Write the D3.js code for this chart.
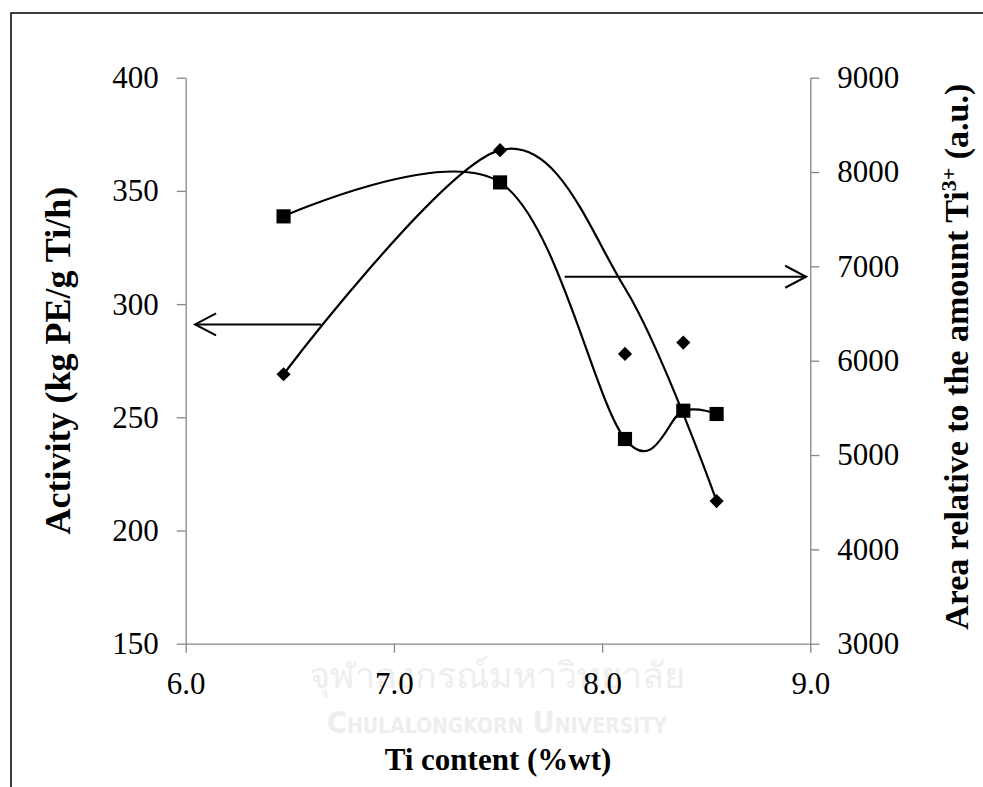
<!DOCTYPE html>
<html>
<head>
<meta charset="utf-8">
<script src="https://cdn.jsdelivr.net/npm/d3@7"></script>
<style>
    html, body { margin: 0; padding: 0; background: #fff; overflow: hidden; }
    svg { display: block; }
</style>
</head>
<body>
<div id="chart"></div>
<script>
// Ti content of each catalyst (%wt)
const tiContent = [6.47, 7.51, 8.11, 8.39, 8.55];
// Activity (kg PE/g Ti/h), diamond markers, left axis
const activity = [269, 368, 278, 283, 213];
// smoothed line drawn for the activity series (knots as they appear in the figure)
const activityCurveTi = [6.47, 7.51, 8.11, 8.55];
const activityCurve = [269, 368, 307, 213];
// Area relative to Ti3+ (a.u.), square markers, right axis
const areaTi3 = [7530, 7890, 5170, 5470, 5435];

const xTicks = [6.0, 7.0, 8.0, 9.0];
const leftTicks = [150, 200, 250, 300, 350, 400];
const rightTicks = [3000, 4000, 5000, 6000, 7000, 8000, 9000];

class DualAxisChart {
    constructor() {
        this.width = 983;
        this.height = 787;
        this.margin = {top: 77.7, right: 172.7, bottom: 143.3, left: 185.7};
        this.font = '"Liberation Serif", "Times New Roman", serif';
        this.render();
    }

    render() {
        const m = this.margin;
        const w = this.width - m.left - m.right;
        const h = this.height - m.top - m.bottom;

        const svg = d3.select('#chart')
            .append('svg')
            .attr('width', this.width)
            .attr('height', this.height);

        // outer frame of the figure (runs off the right and bottom edges)
        svg.append('rect')
            .attr('x', 11)
            .attr('y', 13)
            .attr('width', 1000)
            .attr('height', 1000)
            .attr('fill', 'none')
            .attr('stroke', '#000')
            .attr('stroke-width', 1.5);

        // faint watermark
        const wm = svg.append('g').attr('fill', '#eeeeee');
        wm.append('text')
            .attr('x', 497).attr('y', 688)
            .attr('text-anchor', 'middle')
            .style('font-family', '"Noto Sans", "DejaVu Sans", sans-serif')
            .style('font-size', '36px')
            .text('จุฬาลงกรณ์มหาวิทยาลัย');
        wm.append('text')
            .attr('x', 497).attr('y', 733)
            .attr('text-anchor', 'middle')
            .style('font-family', '"DejaVu Sans Condensed", "DejaVu Sans", sans-serif')
            .style('font-size', '30px')
            .style('font-weight', 'bold')
            .style('font-variant', 'small-caps')
            .text('Chulalongkorn University');

        const g = svg.append('g')
            .attr('transform', `translate(${m.left},${m.top})`);

        const x = d3.scaleLinear().domain([6, 9]).range([0, w]);
        const yLeft = d3.scaleLinear().domain([150, 400]).range([h, 0]);
        const yRight = d3.scaleLinear().domain([3000, 9000]).range([h, 0]);

        // axes
        const styleAxis = sel => {
            sel.select('.domain').attr('stroke', '#868686').attr('stroke-width', 1.3);
            sel.selectAll('.tick line').attr('stroke', '#868686').attr('stroke-width', 1.3);
            sel.selectAll('.tick text')
                .attr('fill', '#000')
                .style('font-family', this.font)
                .style('font-size', '31px');
        };

        g.append('g')
            .attr('transform', `translate(0,${h})`)
            .call(d3.axisBottom(x).tickValues(xTicks).tickFormat(d3.format('.1f'))
                .tickSize(9).tickSizeOuter(0).tickPadding(19))
            .call(styleAxis);

        g.append('g')
            .call(d3.axisLeft(yLeft).tickValues(leftTicks)
                .tickSize(9).tickSizeOuter(0).tickPadding(18))
            .call(styleAxis);

        g.append('g')
            .attr('transform', `translate(${w},0)`)
            .call(d3.axisRight(yRight).tickValues(rightTicks).tickFormat(d3.format('d'))
                .tickSize(9).tickSizeOuter(0).tickPadding(18))
            .call(styleAxis);

        // smoothed lines
        const curve = d3.curveCardinal.tension(0);

        const actLine = d3.line()
            .x((d, i) => x(activityCurveTi[i]))
            .y(d => yLeft(d))
            .curve(curve);

        const areaLine = d3.line()
            .x((d, i) => x(tiContent[i]))
            .y(d => yRight(d))
            .curve(curve);

        g.append('path')
            .datum(activityCurve)
            .attr('fill', 'none')
            .attr('stroke', '#000')
            .attr('stroke-width', 2.2)
            .attr('d', actLine);

        g.append('path')
            .datum(areaTi3)
            .attr('fill', 'none')
            .attr('stroke', '#000')
            .attr('stroke-width', 2.2)
            .attr('d', areaLine);

        // markers
        g.selectAll('.diamond')
            .data(activity)
            .enter()
            .append('path')
            .attr('class', 'diamond')
            .attr('transform', (d, i) => `translate(${x(tiContent[i])},${yLeft(d)}) rotate(45)`)
            .attr('d', d3.symbol(d3.symbolSquare, 100)())
            .attr('fill', '#000');

        g.selectAll('.square')
            .data(areaTi3)
            .enter()
            .append('path')
            .attr('class', 'square')
            .attr('transform', (d, i) => `translate(${x(tiContent[i])},${yRight(d)})`)
            .attr('d', d3.symbol(d3.symbolSquare, 200)())
            .attr('fill', '#000');

        // arrows pointing to each axis
        this.drawArrow(g, x(6.65), x(6.045), yLeft(291));
        this.drawArrow(g, x(7.82), x(8.98), yRight(6890));

        // axis titles
        svg.append('text')
            .attr('x', m.left + w / 2)
            .attr('y', 770)
            .attr('text-anchor', 'middle')
            .style('font-family', this.font)
            .style('font-weight', 'bold')
            .style('font-size', '31px')
            .text('Ti content (%wt)');

        svg.append('text')
            .attr('transform', `translate(70,${m.top + h / 2}) rotate(-90)`)
            .attr('text-anchor', 'middle')
            .style('font-family', this.font)
            .style('font-weight', 'bold')
            .style('font-size', '36px')
            .text('Activity (kg PE/g Ti/h)');

        const rt = svg.append('text')
            .attr('transform', `translate(968,${m.top + h / 2 - 4}) rotate(-90)`)
            .attr('text-anchor', 'middle')
            .style('font-family', this.font)
            .style('font-weight', 'bold')
            .style('font-size', '34px');
        rt.append('tspan').text('Area relative to the amount Ti');
        rt.append('tspan').attr('dy', -12).style('font-size', '22px').text('3+');
        rt.append('tspan').attr('dy', 12).text(' (a.u.)');
    }

    drawArrow(g, x1, x2, y) {
        const dir = x2 > x1 ? -1 : 1;
        g.append('line')
            .attr('x1', x1).attr('x2', x2)
            .attr('y1', y).attr('y2', y)
            .attr('stroke', '#000')
            .attr('stroke-width', 2);
        g.append('path')
            .attr('d', `M${x2 + dir * 21},${y - 11}L${x2},${y}L${x2 + dir * 21},${y + 11}`)
            .attr('fill', 'none')
            .attr('stroke', '#000')
            .attr('stroke-width', 2);
    }
}

const chart = new DualAxisChart();
</script>
</body>
</html>
